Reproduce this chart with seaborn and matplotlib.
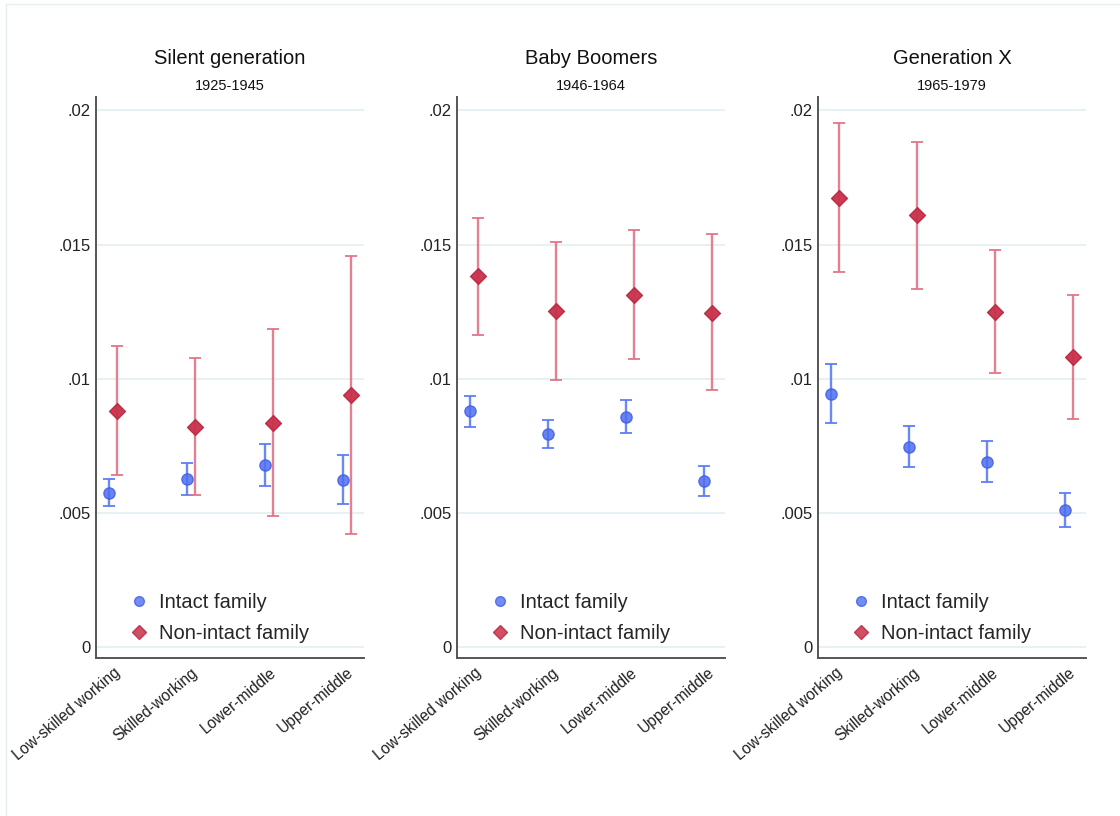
import numpy as np
import pandas as pd
import matplotlib
matplotlib.use("Agg")
import matplotlib.pyplot as plt
import seaborn as sns
from matplotlib.lines import Line2D

sns.set_theme(style="white")
plt.rcParams['font.family'] = ['Liberation Sans', 'DejaVu Sans']

categories = ["Low-skilled working", "Skilled-working", "Lower-middle", "Upper-middle"]
panels = ["Silent generation", "Baby Boomers", "Generation X"]
subtitles = ["1925-1945", "1946-1964", "1965-1979"]

# Intact family: estimate, lower CI, upper CI
intact_est = [[0.00576, 0.00626, 0.00678, 0.00623],
              [0.00879, 0.00796, 0.00859, 0.00619],
              [0.00945, 0.00747, 0.00690, 0.00510]]
intact_lo = [[0.00526, 0.00566, 0.00601, 0.00534],
             [0.00822, 0.00744, 0.00798, 0.00563],
             [0.00837, 0.00670, 0.00614, 0.00449]]
intact_hi = [[0.00628, 0.00688, 0.00757, 0.00715],
             [0.00936, 0.00848, 0.00922, 0.00676],
             [0.01055, 0.00825, 0.00767, 0.00575]]
# Non-intact family
non_est = [[0.00882, 0.00822, 0.00836, 0.00939],
           [0.01382, 0.01254, 0.01312, 0.01247],
           [0.01675, 0.01609, 0.01250, 0.01081]]
non_lo = [[0.00643, 0.00568, 0.00489, 0.00422],
          [0.01164, 0.00997, 0.01073, 0.00960],
          [0.01398, 0.01336, 0.01023, 0.00851]]
non_hi = [[0.01123, 0.01078, 0.01187, 0.01459],
          [0.01598, 0.01510, 0.01553, 0.01540],
          [0.01954, 0.01884, 0.01479, 0.01311]]

yticks = [0, 0.005, 0.01, 0.015, 0.02]
ytick_labels = ["0", ".005", ".01", ".015", ".02"]

blue_pt = "#4f6ff0"
blue_err = "#5a7cf6"
red_pt = "#c9304a"
red_err = "#e07386"

fig = plt.figure(figsize=(11.2, 8.16), dpi=100)
lefts = [96 / 1120, 457 / 1120, 818 / 1120]
W = 268 / 1120
B = 1 - 658 / 816
H = (658 - 97) / 816
off = 0.05

for i in range(3):
    ax = fig.add_axes([lefts[i], B, W, H])
    xs = np.arange(len(categories))
    df_i = pd.DataFrame({"x": xs - off, "y": intact_est[i]})
    df_n = pd.DataFrame({"x": xs + off, "y": non_est[i]})
    ax.errorbar(df_i["x"], df_i["y"],
                yerr=[np.array(intact_est[i]) - np.array(intact_lo[i]),
                      np.array(intact_hi[i]) - np.array(intact_est[i])],
                fmt="none", ecolor=blue_err, elinewidth=1.7, capsize=4.5, capthick=1.4,
                alpha=0.9, zorder=2)
    ax.errorbar(df_n["x"], df_n["y"],
                yerr=[np.array(non_est[i]) - np.array(non_lo[i]),
                      np.array(non_hi[i]) - np.array(non_est[i])],
                fmt="none", ecolor=red_err, elinewidth=1.7, capsize=4.5, capthick=1.4,
                alpha=0.9, zorder=2)
    sns.scatterplot(data=df_i, x="x", y="y", ax=ax, marker="o", s=65,
                    color=blue_pt, edgecolor="#3f5fe6", linewidth=1.0, alpha=0.85, zorder=3)
    sns.scatterplot(data=df_n, x="x", y="y", ax=ax, marker="D", s=65,
                    color=red_pt, edgecolor="#b82a42", linewidth=1.0, alpha=0.95, zorder=3)

    ax.set_xlim(-0.22, 3.22)
    ax.set_ylim(-0.0004, 0.0205)
    ax.set_yticks(yticks)
    ax.set_yticklabels(ytick_labels, fontsize=12)
    ax.set_xticks(xs)
    ax.set_xticklabels(categories, rotation=40, ha="right", va="top",
                       rotation_mode="anchor", fontsize=11.2)
    ax.tick_params(axis="both", length=0, pad=4, colors="#222222")
    ax.tick_params(axis="x", pad=5)
    ax.set_xlabel("")
    ax.set_ylabel("")
    ax.grid(axis="y", color="#e3edf1", linewidth=1.2)
    ax.set_axisbelow(True)
    for s in ["top", "right"]:
        ax.spines[s].set_visible(False)
    for s in ["left", "bottom"]:
        ax.spines[s].set_color("#555555")
        ax.spines[s].set_linewidth(1.4)

    ax.annotate(panels[i], xy=(0.5, 1), xycoords="axes fraction",
                xytext=(0, 28), textcoords="offset points", ha="center", va="center",
                fontsize=14.5, color="#111111")
    ax.annotate(subtitles[i], xy=(0.5, 1), xycoords="axes fraction",
                xytext=(0, 8), textcoords="offset points", ha="center", va="center",
                fontsize=10.5, color="#111111")

    handles = [Line2D([], [], marker="o", linestyle="none", markersize=7,
                      markerfacecolor=blue_pt, markeredgecolor="#3f5fe6", alpha=0.8),
               Line2D([], [], marker="D", linestyle="none", markersize=7,
                      markerfacecolor=red_pt, markeredgecolor="#b82a42", alpha=0.85)]
    ax.legend(handles, ["Intact family", "Non-intact family"], loc="lower left",
              bbox_to_anchor=(0.123, 0.027), frameon=False, fontsize=14.5,
              handlelength=1.0, handletextpad=0.5, borderpad=0, borderaxespad=0,
              labelspacing=0.6)

# faint screenshot frame on left and top
fig.add_artist(Line2D([6 / 1120, 6 / 1120], [0, 1 - 4 / 816], transform=fig.transFigure,
                      color="#e6eef0", linewidth=1))
fig.add_artist(Line2D([6 / 1120, 1], [1 - 4 / 816, 1 - 4 / 816], transform=fig.transFigure,
                      color="#e6eef0", linewidth=1))

fig.savefig("out.png", dpi=100)
